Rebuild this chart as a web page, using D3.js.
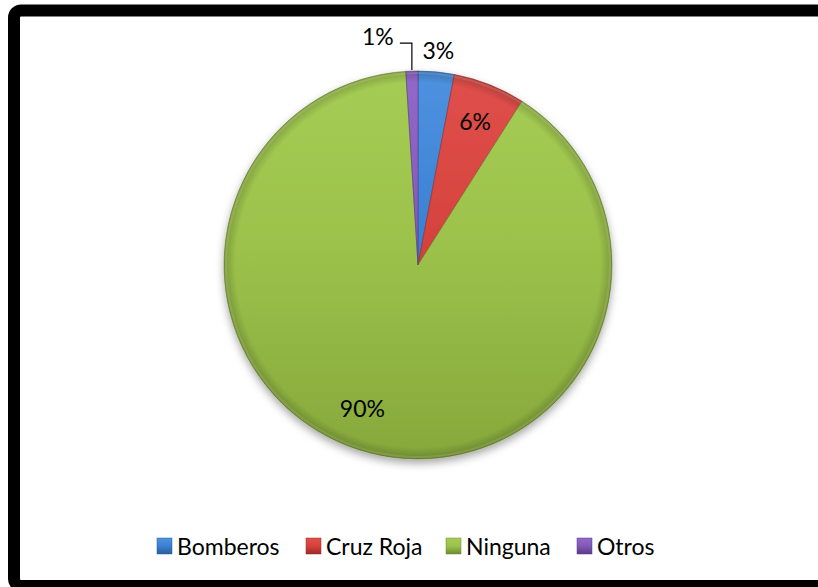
<!DOCTYPE html>
<html>
<head>
<meta charset="utf-8">
<script src="https://cdn.jsdelivr.net/npm/d3@7"></script>
<style>
  html, body { margin: 0; padding: 0; background: #fff; overflow: hidden; }
  svg { display: block; font-family: Lato, "Open Sans", sans-serif; }
</style>
</head>
<body>
<svg id="chart" width="818" height="587"></svg>
<script>
// Data
const categories = ["Bomberos", "Cruz Roja", "Ninguna", "Otros"];
const values = [3, 6, 90, 1];
const valueLabels = ["3%", "6%", "90%", "1%"];

// Fill colours per category: [light top, base, dark bottom, rim]
const palette = [
  ["#4e92e0", "#3b80d2", "#2f6bb8", "#2a5e9e"],
  ["#e0504b", "#d5423d", "#bb3430", "#9e2a26"],
  ["#a5cc54", "#9cc24b", "#86a83b", "#6c8a2e"],
  ["#9269c8", "#8359b8", "#6c46a0", "#5a3a88"]
];

// Label placement: "in" = inside slice, "out" = outside, "leader" = outside with a leader line
const labelMode = ["out", "in", "in", "leader"];
const labelNudge = [[0, 0], [0, 0], [-17, -7], [0, 0]];

const width = 818, height = 587;
const cx = 418, cy = 265, radius = 194;

const svg = d3.select("#chart");
const defs = svg.append("defs");

// Outer frame: open on the right, where it runs past the canvas edge
const fx = 14, fy = 10.5, fb = 586, fr = 7;
svg.append("path")
  .attr("d", `M${width + 20},${fy}H${fx + fr}A${fr},${fr} 0 0 0 ${fx},${fy + fr}V${fb - fr}A${fr},${fr} 0 0 0 ${fx + fr},${fb}H${width + 20}`)
  .attr("fill", "none")
  .attr("stroke", "#000")
  .attr("stroke-width", 12);

// Gradients for slices and legend keys
palette.forEach((c, i) => {
  const g = defs.append("linearGradient")
    .attr("id", "grad" + i)
    .attr("gradientUnits", "userSpaceOnUse")
    .attr("x1", 0).attr("y1", -radius)
    .attr("x2", 0).attr("y2", radius);
  g.append("stop").attr("offset", "0%").attr("stop-color", c[0]);
  g.append("stop").attr("offset", "45%").attr("stop-color", c[1]);
  g.append("stop").attr("offset", "100%").attr("stop-color", c[2]);

  const k = defs.append("linearGradient")
    .attr("id", "key" + i)
    .attr("x1", 0).attr("y1", 0).attr("x2", 0).attr("y2", 1);
  k.append("stop").attr("offset", "0%").attr("stop-color", c[0]);
  k.append("stop").attr("offset", "50%").attr("stop-color", c[1]);
  k.append("stop").attr("offset", "100%").attr("stop-color", c[3]);
});

// Rim darkening for the bevelled look
const rim = defs.append("radialGradient").attr("id", "rim")
  .attr("cx", "50%").attr("cy", "50%").attr("r", "50%");
rim.append("stop").attr("offset", "0%").attr("stop-color", "#000").attr("stop-opacity", 0);
rim.append("stop").attr("offset", "94%").attr("stop-color", "#000").attr("stop-opacity", 0);
rim.append("stop").attr("offset", "100%").attr("stop-color", "#000").attr("stop-opacity", 0.2);

// Soft shadow beneath the pie
const shadow = defs.append("filter").attr("id", "shadow")
  .attr("x", "-20%").attr("y", "-20%").attr("width", "140%").attr("height", "140%");
shadow.append("feDropShadow")
  .attr("dx", 0).attr("dy", 4).attr("stdDeviation", 4)
  .attr("flood-color", "#000").attr("flood-opacity", 0.35);

const pie = d3.pie().sort(null).value(d => d)(values);
const arc = d3.arc().innerRadius(0).outerRadius(radius);

const pg = svg.append("g").attr("transform", `translate(${cx},${cy})`);

const slices = pg.append("g").attr("filter", "url(#shadow)");
slices.selectAll("path.slice")
  .data(pie)
  .join("path")
  .attr("class", "slice")
  .attr("d", arc)
  .attr("fill", (d, i) => `url(#grad${i})`)
  .attr("stroke", (d, i) => palette[i][3])
  .attr("stroke-width", 0.6)
  .attr("stroke-linejoin", "round");

// Overlay for rim shading
pg.append("circle")
  .attr("r", radius)
  .attr("fill", "url(#rim)")
  .attr("pointer-events", "none");

// Slice-edge highlights (bevel)
pg.selectAll("path.hl")
  .data(pie)
  .join("path")
  .attr("class", "hl")
  .attr("d", d3.arc().innerRadius(radius - 3).outerRadius(radius - 1))
  .attr("fill", "#fff")
  .attr("opacity", 0.12);

// Value labels
const fontSize = 23;
const inArc = d3.arc().innerRadius(radius * 0.8).outerRadius(radius * 0.8);
const outArc = d3.arc().innerRadius(radius + 22).outerRadius(radius + 22);

pie.forEach((d, i) => {
  const mode = labelMode[i];
  let x, y;
  if (mode === "in") {
    [x, y] = inArc.centroid(d);
  } else if (mode === "out") {
    [x, y] = outArc.centroid(d);
  } else {
    // leader label sits up and to the left of its slice
    const mid = (d.startAngle + d.endAngle) / 2;
    const px = Math.sin(mid) * (radius + 1);
    const py = -Math.cos(mid) * (radius + 1);
    const elbowY = py - 27;
    const endX = px - 12;
    pg.append("path")
      .attr("d", `M${px},${py}V${elbowY}H${endX}`)
      .attr("fill", "none")
      .attr("stroke", "#000")
      .attr("stroke-width", 1.2);
    x = endX - 22;
    y = elbowY - 7;
  }
  x += labelNudge[i][0];
  y += labelNudge[i][1];
  pg.append("text")
    .attr("x", x).attr("y", y)
    .attr("text-anchor", "middle")
    .attr("dominant-baseline", "central")
    .attr("font-size", fontSize)
    .attr("fill", "#000")
    .text(valueLabels[i]);
});

// Legend
const legendX = [157, 306, 446, 577];
const legend = svg.append("g").attr("transform", "translate(0,538)");
const items = legend.selectAll("g.item")
  .data(categories)
  .join("g")
  .attr("class", "item")
  .attr("transform", (d, i) => `translate(${legendX[i]},0)`);
items.append("rect")
  .attr("width", 15).attr("height", 16)
  .attr("fill", (d, i) => `url(#key${i})`)
  .attr("stroke", (d, i) => palette[i][3])
  .attr("stroke-width", 0.5);
items.append("text")
  .attr("x", 20).attr("y", 8)
  .attr("dominant-baseline", "central")
  .attr("font-size", 23)
  .attr("fill", "#000")
  .text(d => d);
</script>
</body>
</html>
